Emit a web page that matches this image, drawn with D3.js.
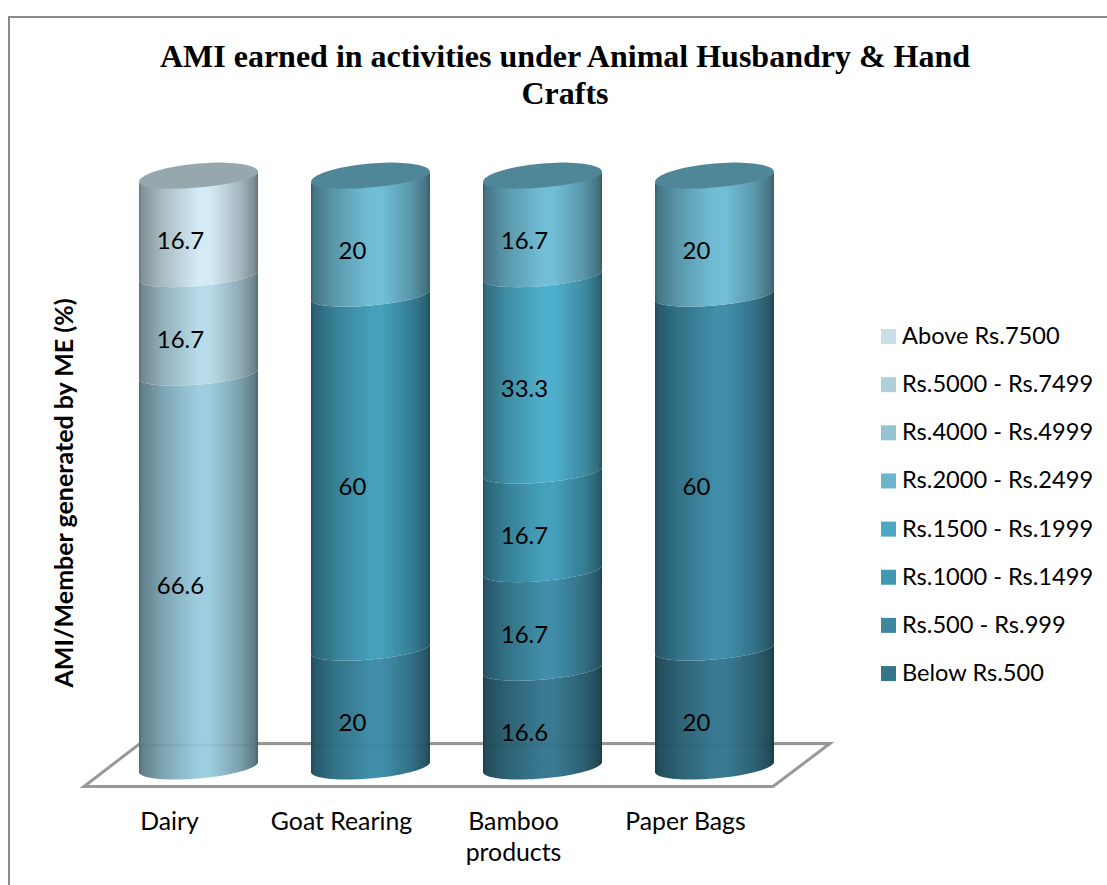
<!DOCTYPE html>
<html>
<head>
<meta charset="utf-8">
<script src="https://cdn.jsdelivr.net/npm/d3@7"></script>
<style>
  html, body { margin: 0; padding: 0; background: #fff; overflow: hidden; }
  text { font-family: Lato, "Open Sans", sans-serif; fill: #000; }
  .chart-title { font-family: "Liberation Serif", serif; font-weight: bold; font-size: 32px; }
</style>
</head>
<body>
<svg id="chart" width="1107" height="885"></svg>
<script>
const categories = ["Dairy", "Goat Rearing", "Bamboo products", "Paper Bags"];
const seriesNames = ["Below Rs.500", "Rs.500 - Rs.999", "Rs.1000 - Rs.1499", "Rs.1500 - Rs.1999",
    "Rs.2000 - Rs.2499", "Rs.4000 - Rs.4999", "Rs.5000 - Rs.7499", "Above Rs.7500"];
const seriesColors = ["#36748a", "#3d87a0", "#4198b2", "#4ba7c2", "#6bb4cb", "#95c3d4", "#aed0dd", "#c9dfe8"];

// one array per series, same order as categories (0 = not present)
const belowRs500 = [0, 0, 16.6, 20];
const rs500 = [0, 20, 16.7, 60];
const rs1000 = [0, 60, 16.7, 0];
const rs1500 = [0, 0, 33.3, 0];
const rs2000 = [0, 20, 16.7, 20];
const rs4000 = [66.6, 0, 0, 0];
const rs5000 = [16.7, 0, 0, 0];
const above7500 = [16.7, 0, 0, 0];
const seriesValues = [belowRs500, rs500, rs1000, rs1500, rs2000, rs4000, rs5000, above7500];

const svg = d3.select("#chart");

const x = d3.scaleBand().domain(categories).range([112.5, 800.5])
    .paddingInner(0.308).paddingOuter(0.154);
const y = d3.scaleLinear().domain([0, 100]).range([767, 177]);

// ellipse heights of the cylinder ends, they open up towards the top
const ryBase = 11.5;
const ryBand = 10.5;
const ryCap = 13.5;
const tilt = 5;  // the ends lean up towards the right

// outer frame of the chart
svg.append("path")
    .attr("d", "M9,885V17H1107")
    .attr("fill", "none")
    .attr("stroke", "#8c8c8c")
    .attr("stroke-width", 2);

// title
const title = svg.append("text").attr("class", "chart-title").attr("text-anchor", "middle");
title.append("tspan").attr("x", 565).attr("y", 67).text("AMI earned in activities under Animal Husbandry & Hand");
title.append("tspan").attr("x", 565).attr("y", 104).text("Crafts");

// floor
const floor = d3.line()([[84, 786.5], [140, 743.5], [830, 743.5], [773, 786.5]]) + "Z";
svg.append("path")
    .attr("d", floor)
    .attr("fill", "#fff")
    .attr("stroke", "#999")
    .attr("stroke-width", 3);

// horizontal shading for the cylinders
const defs = svg.append("defs");
const shade = [[0, 0.5], [0.025, 0.62], [0.2, 0.8], [0.5, 1], [0.6, 1], [0.85, 0.78], [0.97, 0.6], [1, 0.48]];
seriesColors.forEach((c, i) => {
    const peak = d3.rgb(c).brighter(0.15);
    const grad = defs.append("linearGradient").attr("id", "shade" + i);
    shade.forEach(([offset, k]) => {
        grad.append("stop")
            .attr("offset", offset)
            .attr("stop-color", d3.interpolateRgb("#000", peak)(k));
    });
});

// front half of an end ellipse, left to right
function frontArc(cx, cy, rx, ry) {
    return d3.range(0, 41).map(j => {
        const t = Math.PI - j / 40 * Math.PI;
        return [cx + rx * Math.cos(t), cy + ry * Math.sin(t) - tilt * Math.cos(t)];
    });
}

function ring(cx, cy, rx, ry) {
    return d3.range(0, 80).map(j => {
        const t = j / 80 * 2 * Math.PI;
        return [cx + rx * Math.cos(t), cy + ry * Math.sin(t) - tilt * Math.cos(t)];
    });
}

// cylinders
const line = d3.line();
categories.forEach((cat, c) => {
    const cx = x(cat) + x.bandwidth() / 2;
    const rx = x.bandwidth() / 2;
    let total = 0;
    let topIndex = 0;
    const g = svg.append("g");
    seriesValues.forEach((vals, s) => {
        const v = vals[c];
        if (!v) return;
        const y0 = y(total);
        const y1 = y(total + v);
        const lower = frontArc(cx, y0, rx, total === 0 ? ryBase : ryBand);
        total += v;
        topIndex = s;
        const pts = lower.concat(frontArc(cx, y1, rx, ryBand).reverse());
        g.append("path")
            .attr("d", line(pts) + "Z")
            .attr("fill", `url(#shade${s})`);
        g.append("text")
            .attr("x", cx - 18)
            .attr("y", (y0 + y1) / 2 + 13.5)
            .attr("text-anchor", "middle")
            .attr("dominant-baseline", "central")
            .attr("font-size", 24)
            .text(v);
    });
    // top cap
    g.insert("path", "text")
        .attr("d", line(ring(cx, y(total), rx, ryCap)) + "Z")
        .attr("fill", d3.interpolateRgb("#000", d3.rgb(seriesColors[topIndex]).brighter(0.15))(0.71));
});

// floor back edge shows faintly through the cylinders
svg.append("path")
    .attr("d", "M140,745H830")
    .attr("stroke", "#000")
    .attr("stroke-opacity", 0.04)
    .attr("stroke-width", 3);

// category labels sit on the front of the floor
const xAxis = svg.append("g")
    .attr("transform", "translate(-29,0)")
    .call(d3.axisBottom(x).tickSize(0).tickFormat(""));
xAxis.select(".domain").remove();
xAxis.selectAll(".tick").each(function (d) {
    const words = d === "Bamboo products" ? ["Bamboo", "products"] : [d];
    const label = d3.select(this).select("text")
        .attr("y", 0)
        .attr("dy", null)
        .attr("fill", "#000")
        .attr("font-size", 24.8)
        .attr("font-family", null);
    words.forEach((w, i) => {
        label.append("tspan").attr("x", 0).attr("y", 830 + i * 31).text(w);
    });
});

// y axis title
svg.append("text")
    .attr("transform", "translate(73,493) rotate(-90)")
    .attr("text-anchor", "middle")
    .attr("font-size", 25)
    .attr("font-weight", "bold")
    .text("AMI/Member generated by ME (%)");

// legend, top entry is the last series
const legend = svg.append("g").selectAll("g")
    .data(seriesNames.map((name, i) => ({ name, color: seriesColors[i] })).reverse())
    .join("g")
    .attr("transform", (d, i) => `translate(881,${329 + i * 48.15})`);
legend.append("rect").attr("width", 15).attr("height", 15).attr("fill", d => d.color);
legend.append("text")
    .attr("x", 21)
    .attr("y", 15)
    .attr("font-size", 23.6)
    .text(d => d.name);
</script>
</body>
</html>
